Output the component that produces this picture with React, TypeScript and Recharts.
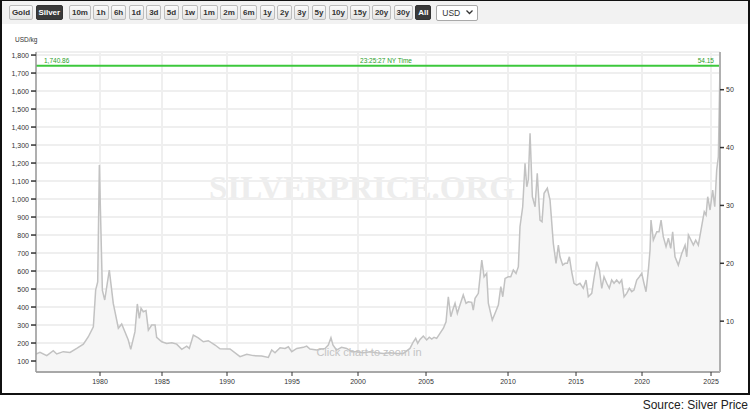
import React from 'react';
import { AreaChart, Area, XAxis, YAxis, CartesianGrid, ReferenceLine } from 'recharts';

// Silver price, USD per kilogram (decimal years)
const dates = [
  1975.0, 1975.31, 1975.84, 1976.35, 1976.62, 1977.13, 1977.66, 1978.18, 1978.7, 1979.09,
  1979.48, 1979.66, 1979.82, 1979.95, 1980.19, 1980.38, 1980.75, 1981.07, 1981.48, 1981.75,
  1982.28, 1982.48, 1982.82, 1983.01, 1983.17, 1983.31, 1983.49, 1983.71, 1983.9, 1984.17,
  1984.44, 1984.57, 1984.98, 1985.36, 1985.75, 1986.13, 1986.52, 1986.9, 1987.1, 1987.41,
  1987.79, 1988.18, 1988.56, 1989.08, 1989.46, 1990.23, 1991.0, 1991.52, 1992.02, 1992.67,
  1993.18, 1993.44, 1993.69, 1994.08, 1994.46, 1994.72, 1994.98, 1995.36, 1995.86, 1996.11,
  1996.36, 1996.87, 1997.5, 1997.75, 1997.95, 1998.1, 1998.37, 1998.75, 1999.14, 1999.52,
  1999.9, 2000.39, 2000.88, 2001.38, 2001.86, 2002.35, 2002.85, 2003.33, 2003.82, 2004.07,
  2004.24, 2004.39, 2004.56, 2004.8, 2005.04, 2005.2, 2005.35, 2005.49, 2005.65, 2005.85,
  2006.06, 2006.22, 2006.36, 2006.51, 2006.63, 2006.77, 2006.91, 2007.07, 2007.27, 2007.44,
  2007.58, 2007.79, 2007.88, 2007.99, 2008.19, 2008.4, 2008.54, 2008.7, 2008.8, 2009.04,
  2009.21, 2009.41, 2009.56, 2009.68, 2009.82, 2010.02, 2010.2, 2010.39, 2010.59, 2010.76,
  2010.88, 2011.08, 2011.25, 2011.38, 2011.49, 2011.62, 2011.79, 2011.99, 2012.15, 2012.35,
  2012.5, 2012.65, 2012.89, 2013.09, 2013.33, 2013.53, 2013.7, 2013.82, 2014.02, 2014.19,
  2014.36, 2014.51, 2014.68, 2014.85, 2015.05, 2015.3, 2015.55, 2015.76, 2015.93, 2016.19,
  2016.36, 2016.57, 2016.77, 2016.95, 2017.12, 2017.33, 2017.52, 2017.7, 2017.88, 2018.08,
  2018.28, 2018.46, 2018.64, 2018.84, 2019.04, 2019.22, 2019.39, 2019.6, 2019.8, 2019.98,
  2020.14, 2020.29, 2020.46, 2020.58, 2020.65, 2020.82, 2021.07, 2021.23, 2021.38, 2021.54,
  2021.74, 2021.91, 2022.08, 2022.22, 2022.39, 2022.63, 2022.88, 2023.12, 2023.24, 2023.36,
  2023.6, 2023.72, 2023.89, 2024.08, 2024.25, 2024.4, 2024.51, 2024.64, 2024.76, 2024.93,
  2025.12, 2025.27, 2025.41, 2025.53, 2025.65,
];

const usdPerKg = [
  139, 148, 130, 157, 139, 152, 148, 170, 194, 235,
  290, 494, 540, 1189, 494, 439, 605, 420, 282, 306,
  217, 165, 263, 417, 337, 393, 374, 380, 272, 300,
  300, 232, 207, 198, 202, 194, 165, 183, 170, 244,
  229, 207, 213, 189, 168, 167, 124, 137, 130, 128,
  120, 161, 146, 174, 170, 179, 152, 170, 176, 183,
  167, 161, 170, 189, 229, 189, 161, 176, 170, 152,
  152, 146, 152, 146, 142, 146, 142, 142, 170, 207,
  226, 198, 220, 239, 217, 232, 222, 232, 226, 254,
  282, 318, 457, 346, 383, 421, 365, 411, 467, 421,
  429, 426, 383, 448, 476, 661, 568, 587, 421, 328,
  365, 411, 513, 457, 559, 568, 568, 606, 587, 624,
  846, 957, 1198, 1068, 1106, 1365, 1013, 957, 1143, 883,
  874, 1032, 1060, 994, 754, 643, 744, 679, 633, 643,
  643, 679, 596, 532, 522, 532, 504, 550, 457, 476,
  559, 652, 606, 504, 568, 532, 504, 550, 532, 550,
  532, 550, 457, 476, 504, 485, 494, 550, 568, 587,
  532, 485, 606, 717, 883, 772, 818, 818, 883, 791,
  735, 782, 726, 818, 679, 633, 698, 744, 679, 800,
  763, 744, 772, 744, 818, 883, 929, 911, 1013, 939,
  1050, 957, 1161, 1235, 1740.86,
];

const lastPrice = 1740.86;
const nyTime = '23:25:27';
const OZ_PER_KG = 32.1507;

const yearTicks = [1980, 1985, 1990, 1995, 2000, 2005, 2010, 2015, 2020, 2025];
const kgTicks = [100, 200, 300, 400, 500, 600, 700, 800, 900, 1000, 1100, 1200, 1300, 1400, 1500, 1600, 1700, 1800];
const ozTicks = [10, 20, 30, 40, 50];
const kgDomain = [39, 1817];

const metalButtons = ['Gold', 'Silver'];
const rangeButtons = ['10m', '1h', '6h', '1d', '3d', '5d', '1w', '1m', '2m', '6m', '1y', '2y', '3y', '5y', '10y', '15y', '20y', '30y', 'All'];

// the source axis spaces its five-year stretches unevenly, so each stretch gets its own width
const spanYears = [1975, 1980, 1985, 1990, 1995, 2000, 2005, 2010, 2015, 2020, 2025];
const spanWidths = [64, 62, 65, 65, 66, 68, 82, 68, 66, 69];
const tailPerYear = 13.8;

const stretch = (year: number) => {
  let acc = 0;
  for (let i = 0; i < spanWidths.length; i++) {
    const a = spanYears[i];
    const b = spanYears[i + 1];
    if (year <= b) return acc + ((year - a) / (b - a)) * spanWidths[i];
    acc += spanWidths[i];
  }
  return acc + (year - spanYears[spanYears.length - 1]) * tailPerYear;
};

const rows = dates.map((d, i) => ({ t: stretch(d), price: usdPerKg[i] }));
const xTicks = yearTicks.map(stretch);
const xDomain = [stretch(dates[0]), stretch(dates[dates.length - 1])];
const ozDomain = [kgDomain[0] / OZ_PER_KG, kgDomain[1] / OZ_PER_KG];

const FONT = '"Liberation Sans", Arial, sans-serif';

const fmtKg = (v: number) => v.toLocaleString('en-US');
const fmtYear = (v: number) => {
  const i = xTicks.findIndex((x) => Math.abs(x - v) < 0.01);
  return i >= 0 ? String(yearTicks[i]) : '';
};

const PriceLabels = (props: any) => {
  const { x, y, width } = props.viewBox;
  return (
    <g fill="#2b9e2b" fontSize={6.5} fontFamily={FONT}>
      <text x={x + 8} y={y - 2.5}>
        {lastPrice.toLocaleString('en-US', { minimumFractionDigits: 2 })}
      </text>
      <text x={x + width / 2 + 8} y={y - 2.5} textAnchor="middle">
        {nyTime} NY Time
      </text>
      <text x={x + width - 6} y={y - 2.5} textAnchor="end">
        {(lastPrice / OZ_PER_KG).toFixed(2)}
      </text>
    </g>
  );
};

const UnitLabel = (props: any) => {
  const { x, y } = props.viewBox;
  return (
    <text x={x + 15} y={y - 10.5} fontSize={6.5} fill="#333" fontFamily={FONT}>
      USD/kg
    </text>
  );
};

const Button = ({ label, active }: { label: string; active?: boolean }) => (
  <span
    style={{
      display: 'inline-block',
      boxSizing: 'border-box',
      height: 15,
      lineHeight: '13px',
      padding: '0 1.9px',
      border: active ? '1px solid #333' : '1px solid #bdbdbd',
      borderRadius: 2,
      background: active ? '#3a3a3a' : 'linear-gradient(#fbfbfb, #e3e3e3)',
      color: active ? '#fff' : '#333',
      fontSize: 8,
      fontWeight: 'bold',
    }}
  >
    {label}
  </span>
);

const App: React.FC = () => {
  return (
    <div style={{ position: 'absolute', left: 0, top: 0, width: 750, height: 415, background: '#fff', fontFamily: FONT }}>
      <div
        style={{
          position: 'absolute',
          left: 0,
          top: 0,
          width: 750,
          height: 395,
          boxSizing: 'border-box',
          border: '2px solid #111',
          borderTopWidth: 1,
        }}
      >
        <div style={{ height: 23, background: '#f2f2f2', display: 'flex', alignItems: 'center', paddingLeft: 7, gap: 2.5 }}>
          {metalButtons.map((b) => (
            <Button key={b} label={b} active={b === 'Silver'} />
          ))}
          <span style={{ width: 1 }} />
          {rangeButtons.map((b) => (
            <Button key={b} label={b} active={b === 'All'} />
          ))}
          <span
            style={{
              marginLeft: 2.5,
              boxSizing: 'border-box',
              width: 42,
              height: 16,
              border: '1px solid #a9a9a9',
              borderRadius: 2,
              background: '#fff',
              fontSize: 8.5,
              color: '#333',
              display: 'flex',
              alignItems: 'center',
              justifyContent: 'space-between',
              padding: '0 4px 0 5px',
            }}
          >
            USD
            <svg width={7} height={5}>
              <polyline points="0.5,0.5 3.5,3.5 6.5,0.5" fill="none" stroke="#333" strokeWidth={1.3} />
            </svg>
          </span>
        </div>
      </div>

      <svg width={750} height={395} style={{ position: 'absolute', left: 0, top: 0 }}>
        <text x={362} y={199} textAnchor="middle" fontSize={33} fontWeight="bold" fill="#ededed" fontFamily='"Liberation Serif", "Times New Roman", serif'>
          SILVERPRICE.ORG
        </text>
      </svg>

      <div style={{ position: 'absolute', left: 0, top: 0 }}>
        <AreaChart width={750} height={395} data={rows} margin={{ top: 52, right: 0, bottom: 0, left: 0 }}>
          <CartesianGrid yAxisId="kg" stroke="#efefef" strokeWidth={2} />
          <XAxis
            dataKey="t"
            type="number"
            domain={xDomain}
            ticks={xTicks}
            interval={0}
            allowDataOverflow
            tickFormatter={fmtYear}
            height={23}
            tickSize={4}
            tickMargin={3}
            axisLine={{ stroke: '#a8a8a8', strokeWidth: 2 }}
            tickLine={{ stroke: '#333' }}
            tick={{ fontSize: 7, fill: '#333', fontFamily: FONT }}
          />
          <YAxis
            yAxisId="kg"
            width={36}
            domain={kgDomain}
            ticks={kgTicks}
            interval={0}
            allowDataOverflow
            tickFormatter={fmtKg}
            tickSize={5}
            tickMargin={2}
            axisLine={{ stroke: '#9a9a9a', strokeWidth: 1.5 }}
            tickLine={{ stroke: '#333', strokeWidth: 1.5 }}
            tick={{ fontSize: 7, fill: '#333', fontFamily: FONT }}
            label={UnitLabel}
          />
          <YAxis
            yAxisId="oz"
            orientation="right"
            width={30}
            domain={ozDomain}
            ticks={ozTicks}
            interval={0}
            allowDataOverflow
            tickSize={4}
            tickMargin={2}
            axisLine={{ stroke: '#b0b0b0', strokeWidth: 2 }}
            tickLine={{ stroke: '#333', strokeWidth: 1.5 }}
            tick={{ fontSize: 7, fill: '#333', fontFamily: FONT }}
          />
          <Area
            yAxisId="kg"
            dataKey="price"
            type="linear"
            stroke="#c2c2c2"
            strokeWidth={1.5}
            fill="#f6f6f6"
            fillOpacity={1}
            dot={false}
            activeDot={false}
            isAnimationActive={false}
          />
          <ReferenceLine yAxisId="kg" y={lastPrice} stroke="#3cc83c" strokeWidth={2} label={PriceLabels} />
        </AreaChart>
      </div>

      <svg width={750} height={395} style={{ position: 'absolute', left: 0, top: 0, pointerEvents: 'none' }}>
        <text x={369} y={356} textAnchor="middle" fontSize={11} fill="#c4c4c4" fontFamily={FONT}>
          Click chart to zoom in
        </text>
      </svg>

      <div style={{ position: 'absolute', right: 2, top: 398, fontSize: 12, color: '#222', fontFamily: FONT }}>
        Source: Silver Price
      </div>
    </div>
  );
};

export default App;
